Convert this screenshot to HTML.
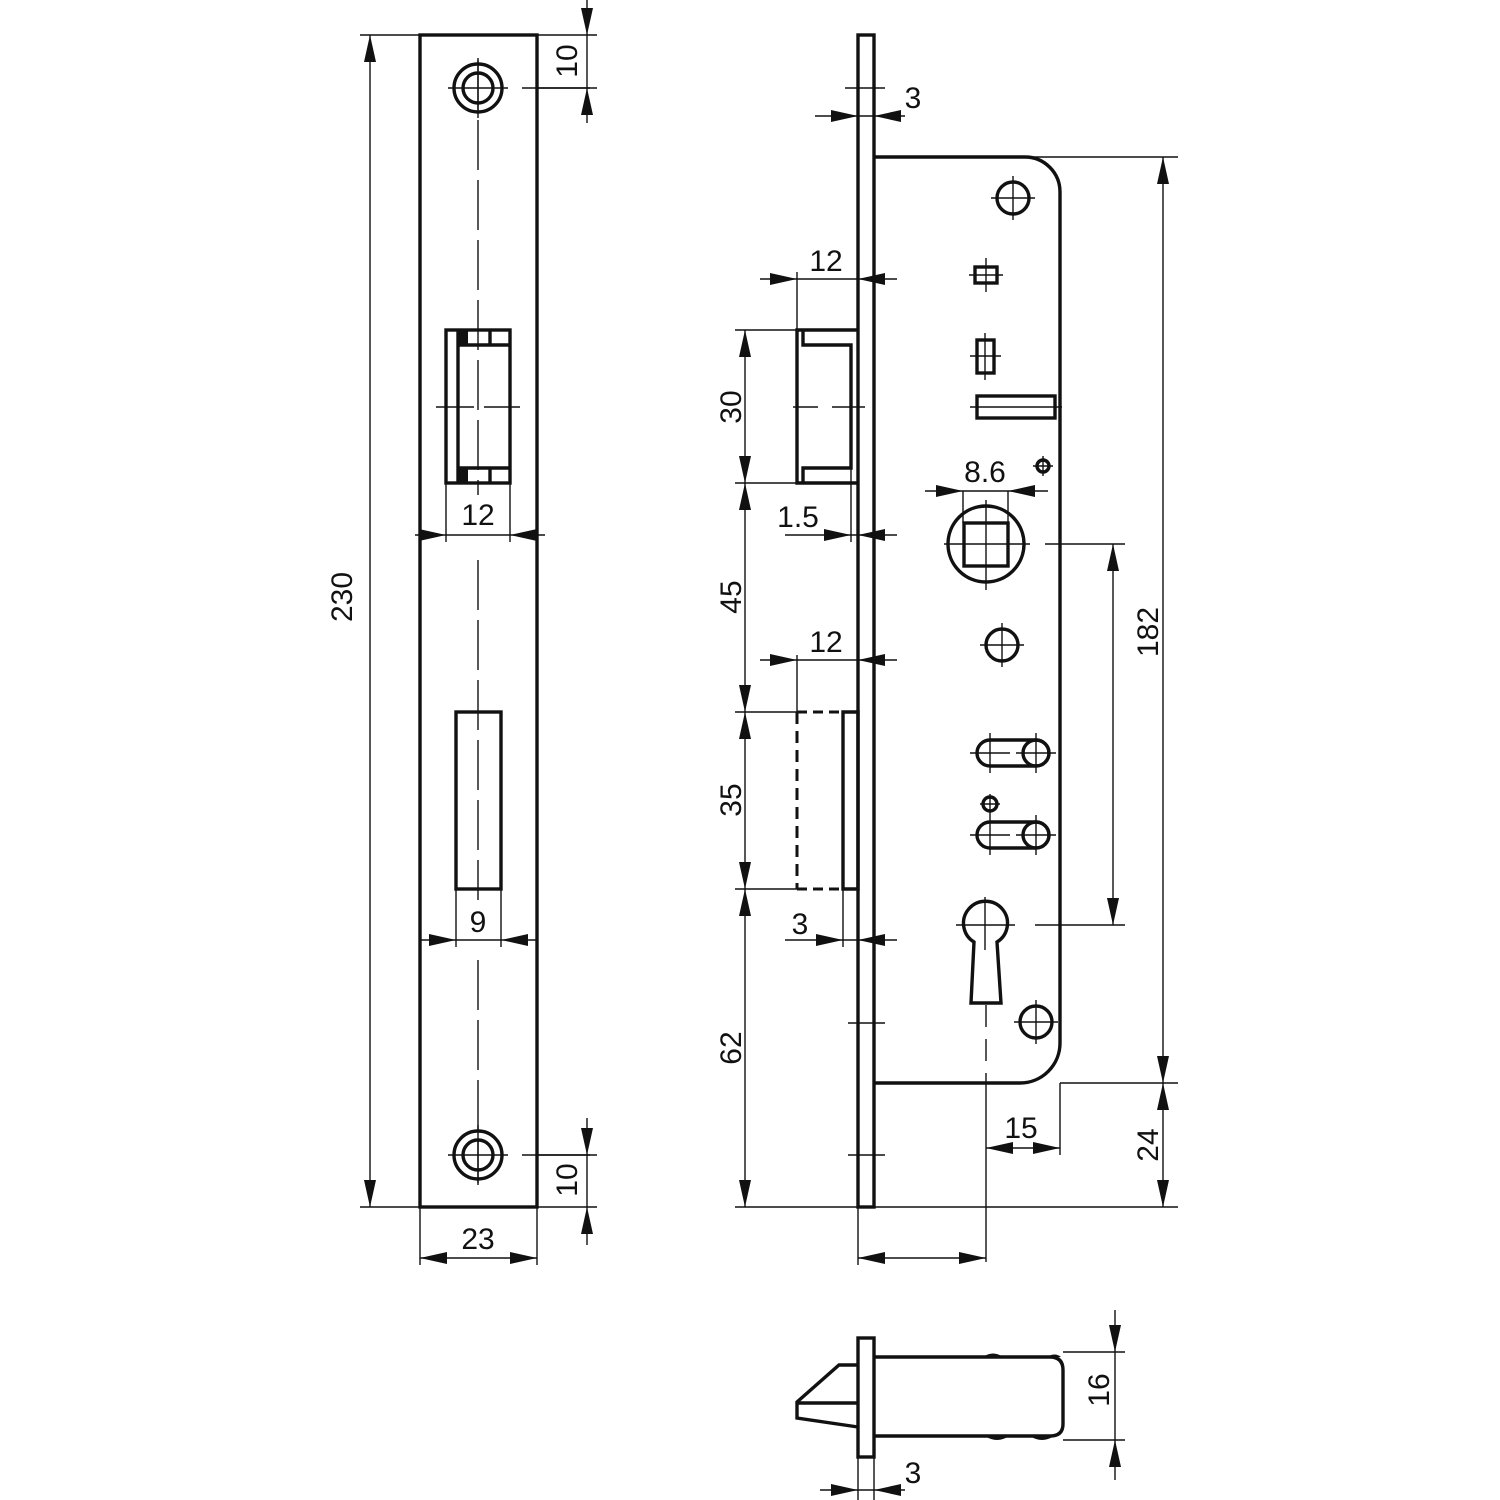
<!DOCTYPE html>
<html><head><meta charset="utf-8"><style>html,body{margin:0;padding:0;background:#fff}svg{display:block}text{font-family:"Liberation Sans",sans-serif;font-size:30px;fill:#111}</style></head>
<body>
<svg width="1500" height="1500" viewBox="0 0 1500 1500" xmlns="http://www.w3.org/2000/svg">
<g fill="none" stroke="#111" stroke-width="3.4">
<rect x="420" y="35" width="117" height="1172"/>
<circle cx="478" cy="88" r="24"/><circle cx="478" cy="88" r="15"/>
<circle cx="478" cy="1155" r="24"/><circle cx="478" cy="1155" r="15"/>
<rect x="446" y="330" width="64" height="153"/>
<path d="M458 345 H510 M458 468 H510 M458 330 V483 M490 330 V345 M490 468 V483"/>
<rect x="456" y="712" width="45" height="177"/>
<rect x="858" y="35" width="16" height="1172"/>
<path d="M874 157 H1025 A35 35 0 0 1 1060 192 V1043 A40 40 0 0 1 1020 1083 H874"/>
<path d="M858 330 H797 V483 H858 M803 330 V345 H851 V468 H803 V483"/>
<path d="M843 712 H858 V889 H843 Z"/>
<circle cx="1013" cy="198" r="16"/>
<rect x="975" y="267" width="22" height="16"/>
<rect x="977" y="340" width="17" height="33"/>
<rect x="977" y="396" width="78" height="22"/>
<circle cx="1043" cy="466" r="6"/>
<circle cx="986" cy="544" r="38"/>
<rect x="964" y="523" width="44" height="43"/>
<circle cx="1002" cy="645" r="16"/>
<path d="M990 740 H1036 A13 13 0 0 1 1036 766 H990 A13 13 0 0 1 990 740 Z"/><circle cx="1036" cy="753" r="13"/>
<circle cx="990" cy="804" r="7"/>
<path d="M990 822 H1036 A13 13 0 0 1 1036 848 H990 A13 13 0 0 1 990 822 Z"/><circle cx="1036" cy="835" r="13"/>
<path d="M974 942 A22 22 0 1 1 997 942 L1001 1003 H971 Z"/>
<circle cx="1036" cy="1022" r="16"/>
<rect x="858" y="1338" width="16" height="119"/>
<path d="M874 1357 H1050 Q1063 1357 1063 1370 V1424 Q1063 1436 1050 1436 H874"/>
<path d="M858 1365 H839 L797 1402 V1418 L858 1427 M797 1403 H858"/>
</g>
<g fill="#111">
<path d="M983 1357 q10 -7 20 0 Z M1047 1357 q8 -5 14 0 Z M985 1436 q12 8 24 0 Z M1030 1436 q12 8 24 0 Z"/>
<rect x="458" y="331" width="10" height="14"/><rect x="458" y="469" width="10" height="14"/>
</g>
<g fill="none" stroke="#111" stroke-width="1.4">
<path d="M478 60 V495 M478 560 V900 M478 960 V1183" stroke-dasharray="50 10"/>
<path d="M448 88 H508 M522 88 H590 M448 1155 H508 M522 1155 H590 M478 58 V118 M478 1125 V1185"/>
<path d="M436 407 H474 M484 407 H520"/>
<path d="M793 407 H818 M832 407 H865"/>
<path d="M797 712 H858 M797 889 H858" stroke-dasharray="10 6" stroke-width="3"/>
<path d="M797 712 V889" stroke-dasharray="12 7" stroke-width="3"/>
<path d="M986 1005 V1083" stroke-dasharray="22 12"/>
<path d="M986 1083 V1262"/>
<path d="M1013 176 V220 M991 198 H1035 M986 258 V292 M969 275 H1003 M985 333 V380 M970 356 H1001 M970 407 H1062 M1043 456 V476 M1033 466 H1053 M986 500 V590 M944 544 H1030 M1045 544 H1125 M1002 623 V667 M980 645 H1024 M990 733 V773 M970 753 H1010 M1036 733 V773 M1016 753 H1056 M990 794 V815 M980 804 H1000 M990 815 V855 M970 835 H1010 M1036 815 V855 M1016 835 H1056 M985 897 V950 M956 925 H1015 M1035 925 H1125 M1036 1000 V1044 M1014 1022 H1058"/>
<path d="M360 35 H420 M370 35 V1207 M360 1207 H420"/>
<path d="M537 35 H597 M587 0 V123 M537 88 H597"/>
<path d="M537 1155 H597 M587 1118 V1245 M537 1207 H597"/>
<path d="M420 1207 V1265 M537 1207 V1265 M420 1258 H537"/>
<path d="M446 483 V542 M510 483 V542 M415 535 H545"/>
<path d="M456 889 V947 M501 889 V947 M420 940 H537"/>
<path d="M815 116 H905 M845 88 H885"/>
<path d="M874 157 H1178 M1163 157 V1207 M1060 1083 H1178 M874 1207 H1178 M1060 1083 V1155"/>
<path d="M1113 544 V925"/>
<path d="M986 1148 H1060"/>
<path d="M858 1207 V1265 M858 1258 H986"/>
<path d="M797 272 V330 M760 279 H897"/>
<path d="M735 330 H797 M735 483 H858 M745 330 V1207 M735 712 H797 M735 889 H797 M735 1207 H858"/>
<path d="M851 468 V542 M785 535 H897"/>
<path d="M797 655 V712 M760 660 H897"/>
<path d="M843 889 V947 M785 940 H897"/>
<path d="M848 1023 H885 M848 1155 H885"/>
<path d="M963 491 V523 M1008 491 V523 M925 491 H1048"/>
<path d="M1063 1352 H1125 M1063 1440 H1125 M1115 1310 V1480"/>
<path d="M858 1457 V1500 M874 1457 V1500 M820 1490 H905"/>
</g>
<g fill="#111">
<polygon points="370,35 364,62 376,62"/><polygon points="370,1207 364,1180 376,1180"/>
<polygon points="587,35 581,8 593,8"/><polygon points="587,88 581,115 593,115"/>
<polygon points="587,1155 581,1128 593,1128"/><polygon points="587,1207 581,1234 593,1234"/>
<polygon points="420,1258 447,1252 447,1264"/><polygon points="537,1258 510,1252 510,1264"/>
<polygon points="446,535 419,529 419,541"/><polygon points="510,535 537,529 537,541"/>
<polygon points="456,940 429,934 429,946"/><polygon points="501,940 528,934 528,946"/>
<polygon points="858,116 831,110 831,122"/><polygon points="874,116 901,110 901,122"/>
<polygon points="1163,157 1157,184 1169,184"/><polygon points="1163,1083 1157,1056 1169,1056"/>
<polygon points="1163,1083 1157,1110 1169,1110"/><polygon points="1163,1207 1157,1180 1169,1180"/>
<polygon points="1113,544 1107,571 1119,571"/><polygon points="1113,925 1107,898 1119,898"/>
<polygon points="986,1148 1013,1142 1013,1154"/><polygon points="1060,1148 1033,1142 1033,1154"/>
<polygon points="858,1258 885,1252 885,1264"/><polygon points="986,1258 959,1252 959,1264"/>
<polygon points="797,279 770,273 770,285"/><polygon points="858,279 885,273 885,285"/>
<polygon points="745,330 739,357 751,357"/><polygon points="745,483 739,456 751,456"/>
<polygon points="745,483 739,510 751,510"/><polygon points="745,712 739,685 751,685"/>
<polygon points="745,712 739,739 751,739"/><polygon points="745,889 739,862 751,862"/>
<polygon points="745,889 739,916 751,916"/><polygon points="745,1207 739,1180 751,1180"/>
<polygon points="851,535 824,529 824,541"/><polygon points="858,535 885,529 885,541"/>
<polygon points="797,660 770,654 770,666"/><polygon points="858,660 885,654 885,666"/>
<polygon points="843,940 816,934 816,946"/><polygon points="858,940 885,934 885,946"/>
<polygon points="963,491 936,485 936,497"/><polygon points="1008,491 1035,485 1035,497"/>
<polygon points="1115,1352 1109,1325 1121,1325"/><polygon points="1115,1440 1109,1467 1121,1467"/>
<polygon points="858,1490 831,1484 831,1496"/><polygon points="874,1490 901,1484 901,1496"/>
</g>
<g>
<text x="352" y="597" text-anchor="middle" transform="rotate(-90 352 597)">230</text>
<text x="577" y="61" text-anchor="middle" transform="rotate(-90 577 61)">10</text>
<text x="577" y="1180" text-anchor="middle" transform="rotate(-90 577 1180)">10</text>
<text x="478" y="1249" text-anchor="middle">23</text>
<text x="478" y="525" text-anchor="middle">12</text>
<text x="478" y="932" text-anchor="middle">9</text>
<text x="913" y="108" text-anchor="middle">3</text>
<text x="826" y="271" text-anchor="middle">12</text>
<text x="798" y="527" text-anchor="middle">1.5</text>
<text x="826" y="652" text-anchor="middle">12</text>
<text x="800" y="934" text-anchor="middle">3</text>
<text x="985" y="482" text-anchor="middle">8.6</text>
<text x="1021" y="1138" text-anchor="middle">15</text>
<text x="913" y="1483" text-anchor="middle">3</text>
<text x="741" y="407" text-anchor="middle" transform="rotate(-90 741 407)">30</text>
<text x="741" y="597" text-anchor="middle" transform="rotate(-90 741 597)">45</text>
<text x="741" y="800" text-anchor="middle" transform="rotate(-90 741 800)">35</text>
<text x="741" y="1048" text-anchor="middle" transform="rotate(-90 741 1048)">62</text>
<text x="1158" y="632" text-anchor="middle" transform="rotate(-90 1158 632)">182</text>
<text x="1158" y="1145" text-anchor="middle" transform="rotate(-90 1158 1145)">24</text>
<text x="1109" y="1390" text-anchor="middle" transform="rotate(-90 1109 1390)">16</text>
</g>
</svg>
</body></html>
